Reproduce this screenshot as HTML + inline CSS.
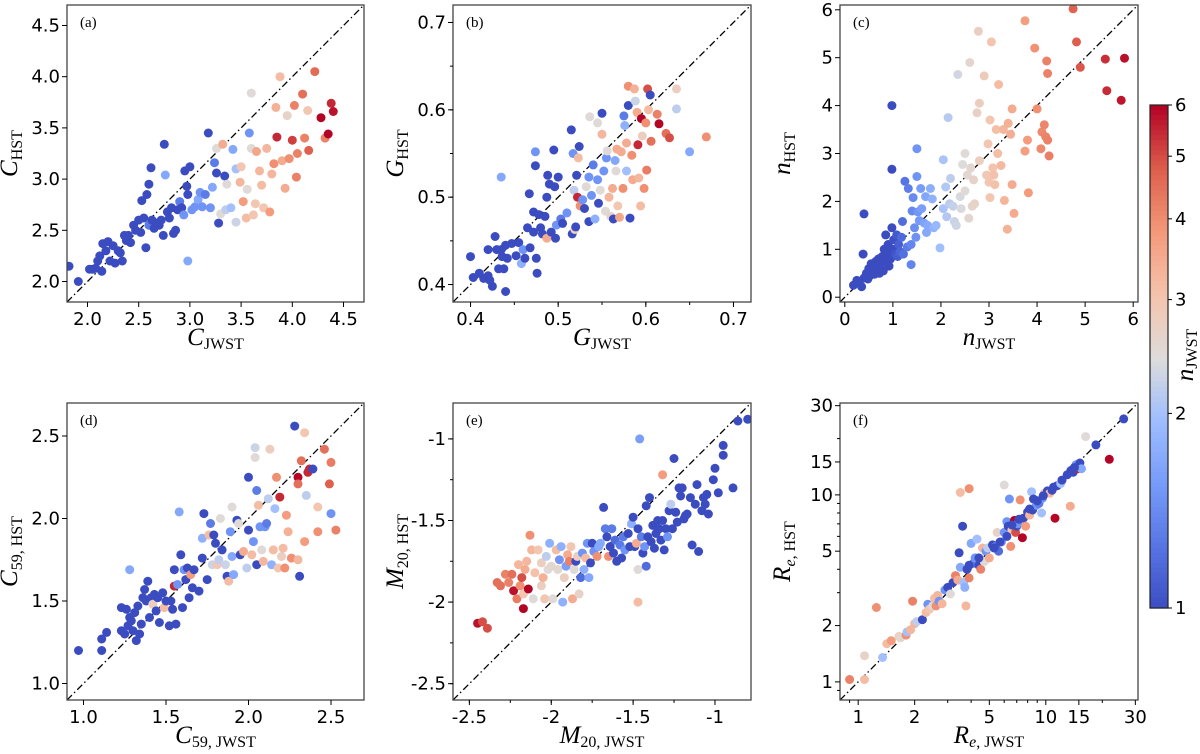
<!DOCTYPE html>
<html><head><meta charset="utf-8"><title>HST vs JWST morphology</title>
<style>
html,body{margin:0;padding:0;background:#fff;}
svg{display:block;}
.tick{font-family:"DejaVu Sans","Liberation Sans",sans-serif;font-size:18px;fill:#000;}
.lab{font-family:"Liberation Serif",serif;font-size:25px;fill:#000;}
.plab{font-family:"Liberation Serif",serif;font-size:15px;fill:#000;}
</style></head>
<body>
<svg id="fig" width="1200" height="754" viewBox="0 0 1200 754" xmlns="http://www.w3.org/2000/svg"></svg>
<script>
// ---------- data (x = JWST, y = HST, n = colour value n_JWST) ----------
const aX=[1.82,1.91,2.02,2.05,2.08,2.1,2.12,2.14,2.15,2.18,2.2,2.22,2.25,2.27,2.3,2.32,2.34,2.36,2.38,2.4,2.42,2.45,2.47,2.5,2.52,2.53,2.55,2.57,2.58,2.6,2.62,2.6,2.63,2.65,2.67,2.7,2.72,2.74,2.75,2.76,2.78,2.8,2.82,2.84,2.86,2.88,2.9,2.92,2.94,2.95,2.97,2.98,3.0,2.98,3.02,3.05,3.08,3.1,3.12,3.15,3.18,3.2,3.22,3.24,3.26,3.26,3.28,3.3,3.32,3.34,3.35,3.36,3.4,3.42,3.45,3.45,3.49,3.5,3.52,3.55,3.56,3.58,3.6,3.6,3.62,3.64,3.65,3.68,3.7,3.72,3.75,3.78,3.8,3.82,3.84,3.85,3.88,3.9,3.93,3.95,3.97,4.0,4.02,4.04,4.05,4.1,4.12,4.15,4.16,4.22,4.28,4.32,4.35,4.38,4.4];
const aY=[2.15,2.0,2.12,2.12,2.13,2.2,2.25,2.1,2.37,2.3,2.39,2.2,2.35,2.18,2.3,2.28,2.2,2.45,2.4,2.45,2.38,2.55,2.5,2.6,2.48,2.79,2.62,2.33,2.85,2.95,3.11,2.55,2.6,2.52,2.57,2.55,2.6,2.45,3.34,3.04,2.68,2.62,2.72,2.47,2.5,2.7,2.78,2.72,2.65,3.08,2.93,2.2,3.12,2.85,2.7,2.73,2.8,2.87,2.73,2.85,3.45,2.72,2.92,3.16,3.06,3.3,2.57,2.66,3.34,3.03,2.7,2.95,2.72,3.29,2.58,3.1,2.97,3.12,2.78,2.62,2.9,3.45,3.84,3.3,2.65,2.76,3.27,3.08,2.94,2.72,3.3,2.68,3.05,3.15,3.7,3.41,4.0,3.18,2.91,3.62,3.2,3.38,3.72,3.02,3.25,3.83,3.4,3.67,3.28,4.05,3.6,3.4,3.44,3.74,3.66];
const aN=[1,1,1,1,1,1,1,1,1,1,1,1,1,1,1,1,1,1,1,1,1,1,1,1,1,1,1,1,1,1,1,1.3,1,1,1,1,1,1,1,1.7,1,1,1,1,1,1,1.3,1,1.5,1,1,1.7,1,1,1.5,1.5,1.7,1.5,1.5,1.3,1,1.5,1.7,1.3,1,2.5,1,2.5,3.5,1,2.2,2.5,2,1.7,2.3,2,3.3,3,3.8,3.2,2.5,1.5,2.5,2.5,3,3,3.6,3.3,3.2,3,3.3,3.8,3.3,4,3.4,5.5,3.2,3.5,3.5,2.7,4,5.2,4.2,4.2,4.2,4.5,4.2,3,4.8,4.6,6,4.2,6,5.5,5.8];

const bX=[0.40,0.403,0.41,0.415,0.42,0.422,0.425,0.42,0.428,0.43,0.432,0.435,0.436,0.438,0.44,0.442,0.44,0.435,0.447,0.452,0.455,0.458,0.46,0.462,0.465,0.467,0.468,0.472,0.472,0.474,0.474,0.475,0.476,0.478,0.48,0.482,0.485,0.487,0.487,0.488,0.49,0.492,0.495,0.496,0.497,0.498,0.5,0.503,0.505,0.51,0.515,0.516,0.517,0.518,0.519,0.52,0.521,0.522,0.523,0.524,0.525,0.528,0.53,0.532,0.535,0.535,0.536,0.538,0.54,0.542,0.545,0.545,0.546,0.548,0.55,0.55,0.552,0.554,0.555,0.556,0.558,0.56,0.562,0.563,0.565,0.566,0.567,0.568,0.57,0.572,0.574,0.575,0.576,0.578,0.578,0.58,0.58,0.582,0.584,0.585,0.587,0.588,0.59,0.591,0.592,0.594,0.595,0.596,0.598,0.6,0.601,0.602,0.603,0.605,0.606,0.613,0.615,0.623,0.627,0.635,0.635,0.65,0.669];
const bY=[0.432,0.408,0.413,0.407,0.41,0.405,0.398,0.44,0.455,0.44,0.418,0.44,0.432,0.418,0.445,0.43,0.392,0.523,0.447,0.433,0.448,0.424,0.44,0.43,0.465,0.504,0.442,0.483,0.46,0.552,0.536,0.43,0.413,0.48,0.465,0.458,0.478,0.5,0.453,0.525,0.515,0.46,0.554,0.512,0.453,0.468,0.523,0.475,0.47,0.482,0.577,0.458,0.55,0.508,0.463,0.466,0.525,0.5,0.545,0.558,0.49,0.497,0.487,0.512,0.472,0.523,0.592,0.502,0.537,0.475,0.585,0.52,0.493,0.508,0.596,0.572,0.53,0.484,0.545,0.553,0.5,0.478,0.51,0.475,0.542,0.53,0.555,0.49,0.477,0.552,0.51,0.593,0.582,0.562,0.53,0.627,0.605,0.476,0.548,0.52,0.624,0.61,0.597,0.56,0.522,0.49,0.59,0.57,0.51,0.585,0.531,0.624,0.6,0.617,0.564,0.595,0.584,0.573,0.568,0.624,0.601,0.552,0.569];
const bN=[1,1,1,1,1,1,1,1,1,1,1,1,1,1,1,1,1,1.7,1,1,1,1.8,1.5,1,1,1,1,1,1,1.5,1,1,1,1,1,1,1,1,3.5,1,1,1,1,1,1,1.5,1,1.3,1,1.5,1,1,1.5,2.2,2.8,1,1,5.5,3.2,1,4,1.5,1,2.5,1,1.5,2.5,1.5,1.3,1.8,2.5,1.5,1,2.5,1,3.3,1.5,2.5,1.5,2.5,3.3,2.7,3.5,1,1.7,2.5,3.5,3,3.6,3.5,4,1.3,1.8,3.5,2,4,1,1,4,3.5,3.4,2.3,3.5,5.5,3.3,3.2,6,2.8,4,4,4.3,5,3.2,1,4.5,4.2,6,4.5,5,2.8,2.2,1.7,4];

const cX=[0.18,0.25,0.3,0.35,0.38,0.4,0.4,0.45,0.48,0.5,0.52,0.55,0.58,0.6,0.62,0.65,0.68,0.7,0.72,0.75,0.78,0.8,0.82,0.85,0.85,0.88,0.9,0.92,0.95,0.98,0.98,0.98,1.0,1.02,1.05,1.08,1.1,1.12,1.15,1.18,1.2,1.22,1.25,1.3,1.32,1.38,1.38,1.4,1.42,1.45,1.48,1.5,1.5,1.52,1.55,1.58,1.6,1.65,1.68,1.7,1.72,1.78,1.82,1.85,1.9,1.98,2.05,2.05,2.1,2.12,2.15,2.18,2.2,2.25,2.28,2.32,2.35,2.4,2.42,2.45,2.5,2.5,2.55,2.58,2.6,2.62,2.65,2.68,2.7,2.75,2.78,2.8,2.8,2.9,2.95,2.98,3.0,3.02,3.02,3.05,3.08,3.1,3.12,3.15,3.18,3.2,3.25,3.3,3.32,3.38,3.4,3.45,3.48,3.48,3.52,3.75,3.75,3.8,3.82,3.95,4.0,4.08,4.1,4.15,4.18,4.2,4.22,4.22,4.25,4.75,4.82,4.9,5.42,5.45,5.75,5.82];
const cY=[0.25,0.35,0.3,0.22,0.9,1.74,0.4,0.5,0.38,0.6,0.45,0.7,0.55,0.65,0.48,0.75,0.6,0.8,0.5,0.7,0.85,0.55,1.0,0.75,1.3,0.9,1.1,0.65,0.8,1.45,2.67,4.0,1.0,1.2,0.9,1.3,0.85,1.1,0.95,1.25,1.58,0.9,2.42,1.05,2.27,1.1,0.68,1.8,2.08,1.45,1.25,3.1,2.52,1.78,1.6,2.27,1.85,1.55,2.1,1.35,1.5,2.27,2.05,1.45,1.5,1.03,2.87,1.85,2.3,1.68,3.75,1.95,2.48,1.9,1.58,1.5,4.65,2.1,1.85,2.77,2.22,3.0,2.55,1.65,4.9,2.7,1.9,2.45,1.95,3.85,5.55,2.85,4.05,4.62,2.55,3.2,2.4,3.7,2.08,5.33,2.7,2.55,2.35,3.5,3.0,4.44,2.75,3.5,2.02,1.42,3.63,3.4,2.35,3.93,1.75,5.77,3.05,3.28,2.18,5.2,3.93,3.1,3.45,3.6,3.35,4.93,4.67,3.28,2.95,6.02,5.33,4.8,4.97,4.31,4.11,4.99];
const cN=cX.slice();

const dX=[0.97,1.11,1.11,1.14,1.23,1.23,1.25,1.26,1.27,1.28,1.28,1.29,1.3,1.31,1.32,1.33,1.34,1.35,1.36,1.37,1.38,1.39,1.4,1.41,1.42,1.43,1.44,1.45,1.46,1.48,1.49,1.5,1.52,1.53,1.54,1.55,1.55,1.56,1.57,1.58,1.59,1.6,1.61,1.62,1.63,1.64,1.65,1.66,1.67,1.7,1.72,1.72,1.73,1.75,1.76,1.77,1.78,1.79,1.8,1.81,1.82,1.83,1.84,1.86,1.87,1.88,1.89,1.9,1.9,1.91,1.93,1.94,1.95,1.97,1.99,2.0,2.0,2.02,2.03,2.04,2.04,2.05,2.05,2.06,2.07,2.08,2.09,2.1,2.11,2.12,2.13,2.14,2.15,2.16,2.17,2.18,2.19,2.2,2.21,2.22,2.23,2.24,2.26,2.28,2.3,2.3,2.3,2.31,2.32,2.34,2.34,2.35,2.36,2.37,2.39,2.42,2.42,2.46,2.49,2.5,2.5,2.53];
const dY=[1.2,1.2,1.27,1.31,1.46,1.32,1.3,1.45,1.35,1.69,1.4,1.38,1.32,1.43,1.26,1.47,1.3,1.36,1.52,1.57,1.5,1.62,1.4,1.52,1.48,1.54,1.44,1.52,1.37,1.55,1.46,1.5,1.35,1.5,1.45,1.69,1.59,1.36,1.6,2.04,1.78,1.46,1.69,1.63,1.7,1.52,1.66,1.58,1.69,1.56,1.88,1.76,2.03,1.63,1.9,1.97,1.72,1.9,1.85,1.72,1.75,2.0,1.81,1.72,1.65,1.62,1.92,1.77,2.07,1.66,1.99,1.97,1.78,1.8,1.7,2.25,1.93,1.78,1.86,2.43,2.37,2.17,1.72,2.08,1.95,1.81,1.74,1.95,1.97,2.12,2.42,1.72,1.81,2.06,2.25,1.7,2.13,1.77,1.82,1.7,2.02,1.92,1.76,2.56,2.25,2.21,1.75,1.65,2.35,1.86,2.52,2.14,2.28,2.3,2.3,1.92,2.07,2.42,2.21,2.34,2.03,1.93];
const dN=[1,1,1,1,1,1,1,1,1,1.7,1,1,1,1,1,1,1,1,1,1,1,1,1,1,2.8,1,1,1,1,1,3.2,1,1,1,1,1,5.5,1,1.5,1.7,1,1,1.5,1,1,1,3.8,1,1,1,1.8,1,1,1,3.2,1.3,2.3,1,1,3,2.2,2.5,1,2.3,1,3.2,1.5,1.7,2.5,1.7,1,2.5,1,3.5,2.2,1,1,3.2,1.5,2.3,2.5,1.3,1,3.2,1.5,2.5,3.3,1.5,1.3,2.2,2.8,1.8,3.2,2,4,3,5.5,2.8,3.2,4,3.8,3.4,4,1,6,4.5,3.3,1,4.5,3.8,3,2.2,5.5,5.5,1,4,3,4.5,4.8,4.3,1.5,4.2];

const eX=[-2.45,-2.42,-2.39,-2.33,-2.31,-2.28,-2.26,-2.24,-2.23,-2.21,-2.2,-2.19,-2.18,-2.17,-2.17,-2.16,-2.15,-2.14,-2.13,-2.12,-2.11,-2.1,-2.08,-2.06,-2.06,-2.05,-2.04,-2.03,-2.02,-2.01,-2.0,-1.99,-1.97,-1.96,-1.95,-1.94,-1.93,-1.92,-1.91,-1.9,-1.89,-1.88,-1.87,-1.86,-1.85,-1.84,-1.83,-1.82,-1.81,-1.8,-1.79,-1.78,-1.77,-1.76,-1.75,-1.74,-1.72,-1.71,-1.7,-1.68,-1.67,-1.66,-1.65,-1.64,-1.63,-1.62,-1.61,-1.6,-1.58,-1.57,-1.56,-1.55,-1.53,-1.52,-1.51,-1.5,-1.49,-1.48,-1.47,-1.47,-1.47,-1.46,-1.45,-1.44,-1.43,-1.42,-1.42,-1.41,-1.4,-1.39,-1.38,-1.37,-1.36,-1.35,-1.34,-1.33,-1.32,-1.32,-1.31,-1.3,-1.29,-1.28,-1.27,-1.26,-1.25,-1.24,-1.23,-1.22,-1.21,-1.2,-1.19,-1.18,-1.17,-1.15,-1.14,-1.12,-1.11,-1.1,-1.08,-1.07,-1.06,-1.05,-1.04,-1.01,-1.0,-0.98,-0.95,-0.95,-0.89,-0.86,-0.8];
const eY=[-2.13,-2.12,-2.16,-1.88,-1.9,-1.83,-1.88,-1.83,-1.93,-1.98,-1.77,-1.9,-1.85,-1.95,-2.04,-1.8,-1.75,-1.92,-1.59,-1.68,-1.98,-1.82,-1.68,-1.9,-1.76,-1.85,-1.98,-1.72,-1.8,-1.64,-1.78,-1.98,-1.68,-1.8,-1.74,-1.66,-2.0,-1.85,-1.78,-1.71,-1.75,-1.66,-1.98,-1.8,-1.75,-1.72,-1.95,-1.85,-1.7,-1.8,-1.73,-1.64,-1.85,-1.76,-1.64,-1.69,-1.72,-1.66,-1.64,-1.42,-1.55,-1.6,-1.72,-1.66,-1.55,-1.7,-1.62,-1.75,-1.65,-1.73,-1.6,-1.68,-1.58,-1.66,-1.52,-1.48,-1.66,-1.64,-1.55,-1.8,-2.0,-1.0,-1.6,-1.7,-1.66,-1.78,-1.41,-1.6,-1.36,-1.63,-1.53,-1.67,-1.58,-1.5,-1.55,-1.62,-1.22,-1.5,-1.68,-1.55,-1.6,-1.44,-1.4,-1.55,-1.12,-1.45,-1.51,-1.3,-1.35,-1.3,-1.49,-1.47,-1.46,-1.36,-1.65,-1.4,-1.28,-1.69,-1.44,-1.36,-1.4,-1.34,-1.46,-1.25,-1.18,-1.33,-1.04,-1.1,-1.3,-0.89,-0.88];
const eN=[5.8,5,5,4.5,4.5,4.2,4.2,4.5,5.8,4.3,3.3,4,5,3,6,3.5,3.3,6,4,3.3,2.5,3.1,3,2.8,2.8,3.4,3,2.2,2.5,1.8,2.6,2.5,3.2,2.6,1.5,1.8,1.8,2.8,1.6,3.5,4.2,3,3.5,2.5,1,2.8,2.7,1.2,1.5,1.8,3.2,1.5,1.7,1,1,1.5,4,1.7,1.7,1,1.3,1,4,1,1.3,1,1.2,1,1.3,1,1.3,1.5,1,1,1.8,1,1,3.5,1,2.5,3.2,1.6,1.3,1,1.5,1.2,1,1,1,1,1,1,1,1,1,1,3.8,1,1,1,1.5,1,2.2,1,1,1,1,1,1,1,1,1,1,1,1,1,1,1,1,1,1,1,1,1,1,1,1,1,1,1,1];

const fX=[0.9,1.08,1.08,1.25,1.35,1.42,1.5,1.65,1.68,1.8,1.82,1.9,1.95,2.0,2.05,2.2,2.3,2.35,2.4,2.5,2.55,2.6,2.65,2.7,2.8,2.9,3.0,3.1,3.2,3.3,3.4,3.5,3.45,3.5,3.6,3.65,3.7,3.75,3.8,3.9,3.9,4.0,4.1,4.2,4.3,4.4,4.5,4.6,4.7,4.8,4.9,5.0,5.2,5.4,5.5,5.6,5.8,6.0,6.0,6.2,6.3,6.4,6.5,6.6,6.8,6.9,7.0,7.1,7.3,7.5,7.6,7.8,8.0,8.2,8.4,8.5,8.6,8.9,9.2,9.5,9.6,9.8,10.2,10.5,11,11.2,11.5,12,13.5,13.6,14,14.5,14.8,15.2,15.5,16.3,18.5,21.8,26,5.3,5.7,6.2,6.6,7.2,8.2,9.0,9.7,10.8,12.2,13.0,14.2,4.4,3.9];
const fY=[1.03,1.03,1.38,2.5,1.35,1.6,1.66,1.75,1.72,1.78,1.85,1.9,2.7,2.05,2.1,2.15,2.35,2.6,2.45,2.55,2.8,2.55,2.9,2.7,2.62,3.1,3.2,2.95,3.4,3.7,3.5,4.1,4.9,10.3,6.8,3.4,3.2,2.55,4.0,3.6,10.8,5.5,4.3,4.6,5.8,4.2,4.0,5.2,4.4,5.0,5.2,4.6,5.4,5.3,6.3,5.0,5.6,11.3,6.3,7.2,6.8,9.5,5.3,6.5,7.3,6.3,6.8,7.0,9.4,5.9,7.5,6.8,8.1,7.8,10.4,8.3,9.5,8.8,9.0,8.0,9.6,10.2,10.5,10.2,11,7.5,11.2,11.5,8.7,13.5,13.2,14.5,13.8,14.8,13.8,20.5,18.5,15.5,25.5,5.2,5.6,6.0,6.9,7.4,8.4,9.3,9.9,10.6,12.0,12.8,14.0,4.6,4.2];
const fN=[4.2,3.2,2.7,4,2,3.2,3.8,2.8,2.6,4,2,3.3,4.2,3.3,2.2,1,3.2,1.5,3,2.5,3.2,4,3.3,1.5,3.3,1.5,1,2.5,1,4.2,3.5,1.7,1,3.2,1,2,1.8,3.3,1,4.2,4,1.7,1.3,1.5,2,1,4.2,3.3,2.5,1.5,2.2,3.5,1,1.3,2.7,1.2,1.5,2.5,1.5,1.5,1,1.5,4,3,6,5,1,1.5,4,6,1,3.8,1,3.3,2,1,1,1.5,1.3,2,1.5,3,1,3.2,1,6,1,2,3.5,1,1,1.5,5.5,1,1.7,2.5,1,6,1,1,1,1,1,1,1,1,1,1,1,1,1,1,1];

// tick values / labels
const aTicks=[2.0,2.5,3.0,3.5,4.0,4.5], aLabels=["2.0","2.5","3.0","3.5","4.0","4.5"];
const bTicks=[0.4,0.5,0.6,0.7], bLabels=["0.4","0.5","0.6","0.7"];
const cTicks=[0,1,2,3,4,5,6], cLabels=["0","1","2","3","4","5","6"];
const dTicks=[1.0,1.5,2.0,2.5], dLabels=["1.0","1.5","2.0","2.5"];
const eTicks=[-2.5,-2,-1.5,-1], eLabels=["-2.5","-2","-1.5","-1"];
const fTicks=[1,2,5,10,15,30], fLabels=["1","2","5","10","15","30"];
const cbTicks=[1,2,3,4,5,6], cbLabels=["1","2","3","4","5","6"];

// ---------- rendering ----------
const NS="http://www.w3.org/2000/svg";
const svg=document.getElementById('fig');
function mk(tag,attrs,parent){const e=document.createElementNS(NS,tag);for(const k in attrs)e.setAttribute(k,attrs[k]);(parent||svg).appendChild(e);return e;}
const CW=[[0,[59,76,192]],[0.125,[86,116,227]],[0.25,[118,155,249]],[0.375,[157,189,255]],[0.5,[221,220,220]],[0.625,[244,196,173]],[0.75,[244,154,123]],[0.875,[222,96,77]],[1,[180,4,38]]];
function cmap(t){t=Math.max(0,Math.min(1,t));for(let i=1;i<CW.length;i++){if(t<=CW[i][0]){const [t0,c0]=CW[i-1],[t1,c1]=CW[i];const u=(t-t0)/(t1-t0);return 'rgb('+c0.map((v,j)=>Math.round(v+(c1[j]-v)*u)).join(',')+')';}}return 'rgb(180,4,38)';}
function nColor(n){return cmap(Math.log(n)/Math.log(6));}

function panel(cfg){
  const {id,L,T,W,H,dom,log,xs,ys,ns,ticks,labels,minor,xl,yl,tag}=cfg;
  const g=mk('g',{});
  
  
  const f=v=>log?Math.log10(v):v;
  const d0=f(dom[0]),d1=f(dom[1]);
  const sx=v=>L+(f(v)-d0)/(d1-d0)*W;
  const sy=v=>T+H-(f(v)-d0)/(d1-d0)*H;
  const cid='clip-'+id;
  const cp=mk('clipPath',{id:cid},g);mk('rect',{x:L,y:T,width:W,height:H},cp);
  const diag=mk('line',{x1:sx(dom[0]),y1:sy(dom[0]),x2:sx(dom[1]),y2:sy(dom[1]),stroke:'#000','stroke-width':1.3,'stroke-dasharray':'7,3,1.5,3','clip-path':'url(#'+cid+')'},g);
  
  
  const pts=mk('g',{'clip-path':'url(#'+cid+')'},g);
  
  
  for(let i=0;i<xs.length;i++){
    const c=mk('circle',{cx:sx(xs[i]).toFixed(1),cy:sy(ys[i]).toFixed(1),r:4.5,fill:nColor(ns[i])},pts);
    
    
  }
  const fr=mk('rect',{x:L,y:T,width:W,height:H,fill:'none',stroke:'#444','stroke-width':1.3},g);
  
  
  (minor||[]).forEach(v=>{
    if(f(v)<d0||f(v)>d1)return;
    mk('line',{x1:sx(v),x2:sx(v),y1:T+H,y2:T+H+3,stroke:'#000','stroke-width':1},g);
    mk('line',{x1:L,x2:L-3,y1:sy(v),y2:sy(v),stroke:'#000','stroke-width':1},g);
  });
  ticks.forEach((v,i)=>{
    mk('line',{x1:sx(v),x2:sx(v),y1:T+H,y2:T+H+5,stroke:'#000','stroke-width':1},g);
    mk('line',{x1:L,x2:L-5,y1:sy(v),y2:sy(v),stroke:'#000','stroke-width':1},g);
    const tx=mk('text',{x:sx(v),y:T+H+23,'text-anchor':'middle',class:'tick'},g);tx.textContent=labels[i];
    
    
    const ty=mk('text',{x:L-7,y:sy(v)+6,'text-anchor':'end',class:'tick'},g);ty.textContent=labels[i];
    
    
  });
  const pl=mk('text',{x:L+13,y:T+22,class:'plab'},g);pl.textContent=tag;
  
  
  const xt=mk('text',{x:L+W/2,y:T+H+43,'text-anchor':'middle',class:'lab'},g);
  xt.innerHTML='<tspan font-style="italic">'+xl[0]+'</tspan><tspan font-size="16" dy="4">'+xl[1]+'</tspan>';
  
  
  const cx=L-50,cy=T+H/2;
  const yt=mk('text',{x:cx,y:cy,'text-anchor':'middle',class:'lab',transform:'rotate(-90 '+cx+' '+cy+')'},g);
  yt.innerHTML='<tspan font-style="italic">'+yl[0]+'</tspan><tspan font-size="16" dy="5">'+yl[1]+'</tspan>';
  
  
}
const r1={T:5,H:297},r2={T:403,H:297};
const c1={L:67,W:297},c2={L:453,W:298},c3={L:840,W:298};
function range(a,b,s){const r=[];for(let v=a;v<=b+1e-9;v+=s)r.push(+v.toFixed(3));return r;}
const eSub='<tspan font-style="italic">e</tspan>';
panel({id:'a',...c1,...r1,dom:[1.8,4.7],xs:aX,ys:aY,ns:aN,ticks:aTicks,labels:aLabels,xl:['C','JWST'],yl:['C','HST'],tag:'(a)'});
panel({id:'b',...c2,...r1,dom:[0.38,0.72],xs:bX,ys:bY,ns:bN,ticks:bTicks,labels:bLabels,minor:range(0.4,0.7,0.05),xl:['G','JWST'],yl:['G','HST'],tag:'(b)'});
panel({id:'c',...c3,...r1,dom:[-0.1,6.1],xs:cX,ys:cY,ns:cN,ticks:cTicks,labels:cLabels,xl:['n','JWST'],yl:['n','HST'],tag:'(c)'});
panel({id:'d',...c1,...r2,dom:[0.9,2.7],xs:dX,ys:dY,ns:dN,ticks:dTicks,labels:dLabels,xl:['C','59, JWST'],yl:['C','59, HST'],tag:'(d)'});
panel({id:'e',...c2,...r2,dom:[-2.6,-0.78],xs:eX,ys:eY,ns:eN,ticks:eTicks,labels:eLabels,minor:range(-2.5,-1,0.25),xl:['M','20, JWST'],yl:['M','20, HST'],tag:'(e)'});
panel({id:'f',...c3,...r2,dom:[0.8,31],log:true,xs:fX,ys:fY,ns:fN,ticks:fTicks,labels:fLabels,minor:[0.9,3,4,6,7,8,9,20],xl:['R',eSub+', JWST'],yl:['R',eSub+', HST'],tag:'(f)'});

// colorbar
const cb=mk('g',{});


const CBL=1150,CBW=18,CBT=105,CBB=608;
const cbY=v=>CBB-Math.log(v)/Math.log(6)*(CBB-CBT);
const N=100;
for(let i=0;i<N;i++){
  const y0=CBT+(CBB-CBT)*i/N;
  mk('rect',{x:CBL,y:y0,width:CBW,height:(CBB-CBT)/N+0.6,fill:cmap(1-i/N)},cb);
}
mk('rect',{x:CBL,y:CBT,width:CBW,height:CBB-CBT,fill:'none',stroke:'#222','stroke-width':1.2},cb);
cbTicks.forEach((v,i)=>{
  mk('line',{x1:CBL+CBW,x2:CBL+CBW+4,y1:cbY(v),y2:cbY(v),stroke:'#000'},cb);
  const t=mk('text',{x:CBL+CBW+7,y:cbY(v)+6,class:'tick'},cb);t.textContent=cbLabels[i];
  
  
});
const cbl=mk('text',{x:1193,y:355,'text-anchor':'middle',class:'lab',transform:'rotate(-90 1193 355)'},cb);
cbl.innerHTML='<tspan font-style="italic">n</tspan><tspan font-size="16" dy="4">JWST</tspan>';


</script>
</body></html>
